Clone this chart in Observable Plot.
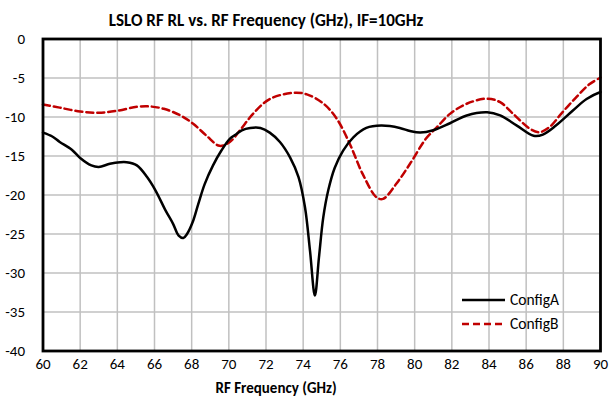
<!DOCTYPE html>
<html><head><meta charset="utf-8">
<script src="https://cdn.jsdelivr.net/npm/d3@7"></script>
<script src="https://cdn.jsdelivr.net/npm/@observablehq/plot@0.6"></script>
<style>
body{margin:0;background:#fff;font-family:Carlito,Calibri,Lato,sans-serif;}
#wrap{position:relative;width:610px;height:406px;}
#title{position:absolute;left:0;top:0;width:532px;height:30px;text-align:center;font-weight:bold;font-size:17px;line-height:42px;color:#000;}
#xlabel{position:absolute;left:0;top:376px;width:552px;height:30px;text-align:center;font-weight:bold;font-size:15px;line-height:24px;color:#000;}
#chart{position:absolute;left:0;top:30px;}
#legend{position:absolute;left:455px;top:285px;font-size:15.5px;}
</style></head>
<body>
<div id="wrap">
<div id="title">LSLO RF RL vs. RF Frequency (GHz), IF=10GHz</div>
<div id="chart"></div>
<div id="xlabel">RF Frequency (GHz)</div>
<svg id="legend" width="150" height="50"></svg>
</div>
<script>
const seriesNames = ["ConfigA", "ConfigB"];
const freqA = [60,60.5,60.9,61.55,62,62.6,63,63.6,64.15,64.5,65.05,65.6,66.05,66.6,67.0,67.3,67.55,67.75,68.05,68.35,68.7,69.15,69.6,70.05,70.4,70.7,71.15,71.7,72.2,72.75,73.3,73.75,74.1,74.37,74.63,74.85,75.08,75.35,75.7,76.15,76.7,77.4,78.2,79.2,79.75,80.3,81.0,81.9,82.8,83.9,84.6,85.5,86.4,86.9,87.6,88.5,89.25,90];
const rlA = [-12.0,-12.5,-13.2,-14.2,-15.25,-16.2,-16.4,-16.0,-15.8,-15.8,-16.2,-17.7,-19.4,-22,-23.7,-25.2,-25.5,-25.0,-23.5,-21.2,-18.6,-16.2,-14.3,-12.8,-12.2,-11.7,-11.4,-11.4,-12.0,-13.2,-15.2,-17.7,-21.6,-27.2,-32.9,-28,-22.9,-19.4,-16.5,-14.3,-12.6,-11.4,-11.1,-11.4,-11.8,-12.0,-11.7,-10.8,-9.8,-9.4,-9.8,-11.1,-12.4,-12.25,-11.1,-9.2,-7.7,-6.8];
const freqB = [60,60.9,62,63,64,65.05,65.75,66.5,67.4,68.1,68.8,69.5,70.05,70.6,71.3,72.2,73.47,74.2,75.1,75.8,76.5,77.2,77.95,78.3,79.0,79.75,80.6,81.2,81.9,82.8,83.9,84.6,85.3,86.2,86.7,87.25,87.95,88.7,89.4,90];
const rlB = [-8.4,-8.8,-9.3,-9.45,-9.2,-8.7,-8.65,-8.95,-9.8,-10.9,-12.4,-13.7,-13.2,-11.7,-9.6,-7.7,-6.9,-7.1,-8.3,-10.2,-13.4,-17.3,-20.3,-20.5,-18.6,-16.0,-12.8,-11.3,-9.6,-8.3,-7.65,-8.1,-9.6,-11.5,-11.95,-11.3,-9.4,-7.45,-5.8,-4.95];
const xTicks = d3.range(60, 91, 2);
const yTicks = d3.range(-40, 1, 5);

const dataA = freqA.map((f,i)=>({f, v: rlA[i]}));
const dataB = freqB.map((f,i)=>({f, v: rlB[i]}));

const plot = Plot.plot({
  width: 610, height: 346,
  marginLeft: 42.5, marginRight: 10, marginTop: 8.5, marginBottom: 25.5,
  style: {fontFamily: "Carlito, Calibri, Lato, sans-serif", fontSize: "15px", color: "#000", background: "#fff"},
  x: {domain: [60, 90], ticks: xTicks, tickFormat: d => d, label: null},
  y: {domain: [-40, 0], ticks: yTicks, tickFormat: d => d < 0 ? "-" + Math.abs(d) : d, label: null},
  marks: [
    Plot.gridX(xTicks, {stroke: "#c0c0c0", strokeOpacity: 1, strokeWidth: 1.5}),
    Plot.gridY(yTicks, {stroke: "#c0c0c0", strokeOpacity: 1, strokeWidth: 1.5}),
    Plot.axisX(xTicks, {tickSize: 0, tickPadding: 7, tickFormat: d => d, fontSize: 15}),
    Plot.axisY(yTicks, {tickSize: 0, tickPadding: 18, tickFormat: d => d < 0 ? "-" + Math.abs(d) : d, fontSize: 15}),
    Plot.line(dataB, {x: "f", y: "v", stroke: "#c00000", strokeWidth: 2.5, strokeDasharray: "7,4", curve: "catmull-rom"}),
    Plot.line(dataA, {x: "f", y: "v", stroke: "#000", strokeWidth: 2.5, curve: "catmull-rom"}),
    Plot.frame({stroke: "#000", strokeWidth: 2.8})
  ]
});
document.getElementById("chart").appendChild(plot);

// legend
const lg = d3.select("#legend");
const items = [{name: seriesNames[0], stroke: "#000", dash: null}, {name: seriesNames[1], stroke: "#c00000", dash: "7,4"}];
items.forEach((it, i) => {
  const y = 15 + i * 24;
  lg.append("line").attr("x1", 7).attr("x2", 50).attr("y1", y).attr("y2", y)
    .attr("stroke", it.stroke).attr("stroke-width", 2.5).attr("stroke-dasharray", it.dash);
  lg.append("text").attr("x", 55).attr("y", y).attr("dy", "0.35em").text(it.name)
    .style("font-family", "Carlito, Calibri, Lato, sans-serif").style("font-size", "15.5px");
});
</script>
</body></html>
